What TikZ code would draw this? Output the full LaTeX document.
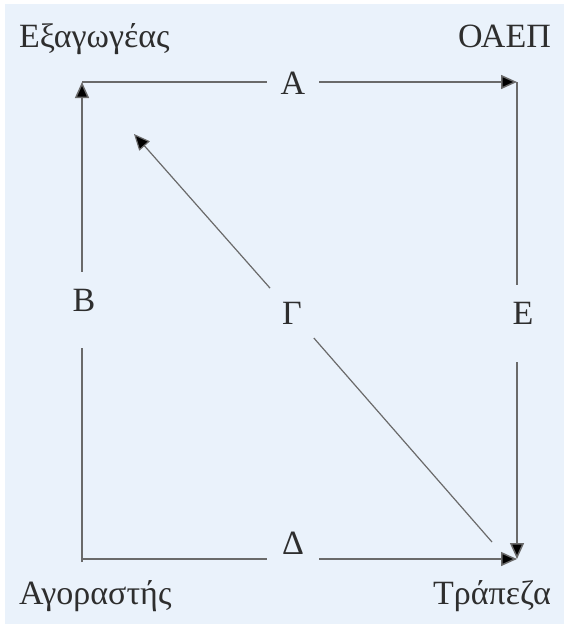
\documentclass[tikz,border=0pt]{standalone}
\usepackage{fontspec}
\setmainfont{Liberation Serif}
\usetikzlibrary{arrows.meta}
\definecolor{panel}{HTML}{EAF2FB}
\definecolor{linegray}{HTML}{6A6A6A}
\definecolor{txt}{HTML}{2E2E2E}
\begin{document}
\begin{tikzpicture}[x=1pt,y=-1pt,
  lbl/.style={inner sep=0pt,font=\fontsize{34}{40}\selectfont,text=txt},
  gapbox/.style={lbl,minimum width=52pt,minimum height=56pt},
  conn/.style={draw=linegray,line width=1.5pt},
  tipped/.style={-{Triangle[length=16pt,width=14pt,fill=black]}},
]
\useasboundingbox (0,0) rectangle (564,624);
\fill[white] (0,0) rectangle (564,624);
\fill[panel] (5,4) rectangle (564,624);

% corners
\coordinate (tl) at (82,82);
\coordinate (tr) at (517,82);
\coordinate (bl) at (82,559);
\coordinate (br) at (517,559);
\coordinate (dtip) at (134,134);
\coordinate (dstart) at (492,542);

% corner labels
\node[lbl,anchor=base west] (exp) at (19,47) {Εξαγωγέας};
\node[lbl,anchor=base east] (oaep) at (551,47) {ΟΑΕΠ};
\node[lbl,anchor=base west] (buyer) at (19,604) {Αγοραστής};
\node[lbl,anchor=base east] (bank) at (551,604) {Τράπεζα};

% connector labels
\node[gapbox] (A) at (293,83) {Α};
\node[gapbox] (B) at (84,300) {Β};
\node[gapbox] (G) at (292,313) {Γ};
\node[gapbox] (E) at (523,313) {Ε};
\node[gapbox] (D) at (293,543) {Δ};

% A: top
\draw[conn] (tl) -- (tl -| A.west);
\draw[conn,tipped] (tr -| A.east) -- (tr);
% B: left
\draw[conn,tipped] (tl |- B.north) -- (tl);
\draw[conn,shorten >=20pt] (bl) ++(0,3) -- (bl |- B.south);
% E: right
\draw[conn] (tr) -- (tr |- E.north);
\draw[conn,tipped,shorten <=21pt] (br |- E.south) -- (br);
% D: bottom
\draw[conn] (bl) -- (bl -| D.west);
\draw[conn,tipped] (br -| D.east) -- (br);
% Gamma: diagonal
\node[lbl,circle,minimum size=66pt] (Gc) at (G) {};
\draw[conn,line width=1.2pt,tipped] (Gc) -- (dtip);
\draw[conn,line width=1.2pt] (dstart) -- (Gc);
\end{tikzpicture}
\end{document}
